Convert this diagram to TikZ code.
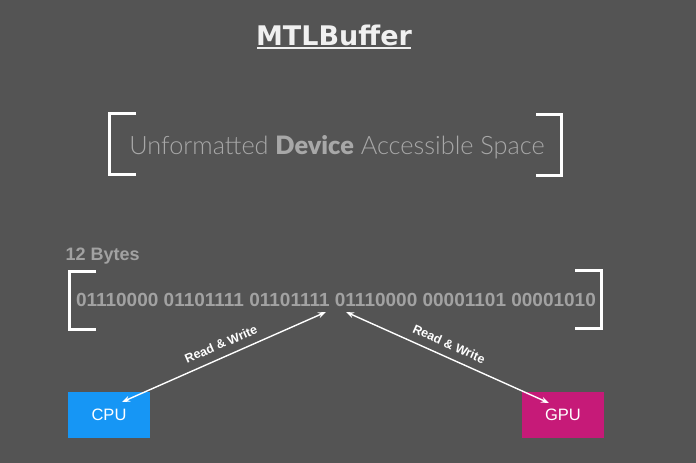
\documentclass[tikz,border=0pt]{standalone}
\usepackage{fontspec}
\setmainfont{Liberation Sans}
\newfontfamily\lightfont{Lato Light}
\newfontfamily\boldlato{Lato Black}
\newfontfamily\titlefont{DejaVu Sans}
\usetikzlibrary{arrows.meta}
\definecolor{bg}{RGB}{84,84,84}
\definecolor{titlec}{RGB}{240,240,240}
\definecolor{softgray}{RGB}{168,168,168}
\definecolor{bingray}{RGB}{162,162,162}
\definecolor{cpublue}{RGB}{22,150,245}
\definecolor{gpumag}{RGB}{198,26,120}
\tikzset{
  bracket/.style={draw=white, line width=3pt},
  arrowline/.style={draw=white, line width=1.4pt, {Stealth[length=8pt,width=6pt]}-{Stealth[length=8pt,width=6pt]}},
  rwlabel/.style={text=white, font=\bfseries\fontsize{12.5}{12.5}\selectfont, inner sep=1pt},
  unitbox/.style={minimum width=82pt, minimum height=46pt, inner sep=0pt, text=white, font=\fontsize{16.5}{16.5}\selectfont},
}
\begin{document}
\begin{tikzpicture}[x=1pt,y=-1pt]
\fill[bg] (0,0) rectangle (696,463);
\useasboundingbox (0,0) rectangle (696,463);
% title
\node[text=titlec, font=\titlefont\bfseries\fontsize{27}{27}\selectfont, inner sep=0pt, anchor=base] (title) at (334,45) {MTLBuffer};
\draw[titlec, line width=1.5pt] (257,48) -- (411,48);
% top brackets
\draw[bracket] (136,113) -- (109.5,113) -- (109.5,174.5) -- (136,174.5);
\draw[bracket] (536,114) -- (561.5,114) -- (561.5,175.5) -- (536,175.5);
\node[text=softgray, font=\lightfont\fontsize{25.3}{25.3}\selectfont, inner sep=0pt, anchor=base] (space) at (337,154)
  {Unformatted {\boldlato Device} Accessible Space};
% 12 bytes
\node[text=bingray, font=\bfseries\fontsize{18}{18}\selectfont, inner sep=0pt, anchor=base west] (bytes) at (65.5,260) {12 Bytes};
% bottom brackets
\draw[bracket] (96,271) -- (69.5,271) -- (69.5,329) -- (96,329);
\draw[bracket] (575,270) -- (601.5,270) -- (601.5,328) -- (575,328);
\node[text=bingray, font=\bfseries\fontsize{19}{19}\selectfont, inner sep=0pt, anchor=base] (bin) at (336,306.5)
  {01110000 01101111 01101111 01110000 00001101 00001010};
% boxes
\node[unitbox, fill=cpublue] (cpu) at (109,415) {CPU};
\node[unitbox, fill=gpumag] (gpu) at (563,414.5) {GPU};
% arrow endpoints
\coordinate (la) at (326,312);
\coordinate (lb) at (122,402);
\coordinate (ra) at (346,312);
\coordinate (rb) at (549,403);
\draw[arrowline] (lb) -- (la);
\draw[arrowline] (ra) -- (rb);
\node[rwlabel, rotate=23.5] (lrw) at (221,344) {Read \& Write};
\node[rwlabel, rotate=-24] (rrw) at (449,344) {Read \& Write};
\end{tikzpicture}
\end{document}
